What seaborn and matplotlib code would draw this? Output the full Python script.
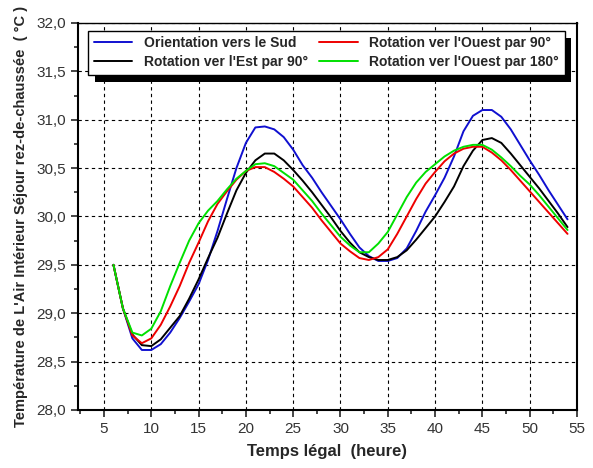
import numpy as np
import pandas as pd
import seaborn as sns
import matplotlib.pyplot as plt
import matplotlib.patheffects as pe
from matplotlib.ticker import MultipleLocator, FuncFormatter

heures = list(range(6, 55))

sud = [29.50, 29.05, 28.74, 28.62, 28.62, 28.68, 28.80, 28.95, 29.12, 29.30,
       29.55, 29.85, 30.18, 30.50, 30.76, 30.92, 30.93, 30.90, 30.82, 30.69,
       30.53, 30.40, 30.25, 30.11, 29.97, 29.82, 29.68, 29.59, 29.54, 29.54,
       29.57, 29.67, 29.85, 30.05, 30.22, 30.40, 30.62, 30.88, 31.04, 31.10,
       31.10, 31.03, 30.90, 30.74, 30.58, 30.43, 30.27, 30.12, 29.97]
est90 = [29.50, 29.05, 28.78, 28.67, 28.66, 28.73, 28.85, 28.97, 29.15, 29.35,
         29.57, 29.78, 30.03, 30.27, 30.45, 30.58, 30.65, 30.65, 30.58, 30.48,
         30.37, 30.25, 30.12, 29.99, 29.85, 29.73, 29.63, 29.58, 29.55, 29.55,
         29.58, 29.65, 29.76, 29.88, 30.00, 30.15, 30.31, 30.52, 30.68, 30.79,
         30.81, 30.76, 30.65, 30.53, 30.41, 30.29, 30.16, 30.03, 29.89]
ouest90 = [29.50, 29.05, 28.77, 28.69, 28.74, 28.88, 29.07, 29.28, 29.52, 29.73,
           29.95, 30.13, 30.26, 30.38, 30.47, 30.51, 30.51, 30.46, 30.39, 30.31,
           30.20, 30.09, 29.96, 29.84, 29.72, 29.64, 29.57, 29.55, 29.58, 29.66,
           29.82, 30.00, 30.18, 30.34, 30.46, 30.57, 30.65, 30.70, 30.72, 30.72,
           30.66, 30.58, 30.48, 30.37, 30.26, 30.15, 30.04, 29.93, 29.82]
ouest180 = [29.50, 29.05, 28.80, 28.77, 28.84, 29.02, 29.28, 29.52, 29.75, 29.93,
            30.06, 30.16, 30.28, 30.39, 30.47, 30.54, 30.55, 30.52, 30.45, 30.38,
            30.27, 30.16, 30.03, 29.91, 29.79, 29.70, 29.63, 29.63, 29.72, 29.84,
            30.02, 30.20, 30.35, 30.46, 30.54, 30.62, 30.68, 30.72, 30.74, 30.74,
            30.69, 30.61, 30.52, 30.42, 30.33, 30.22, 30.10, 29.98, 29.86]

noms = ["Orientation vers le Sud", "Rotation ver l'Est par 90°",
        "Rotation ver l'Ouest par 90°", "Rotation ver l'Ouest par 180°"]
couleurs = ["#1010d0", "#000000", "#ee0000", "#00e000"]

df = pd.DataFrame({
    "t": heures * 4,
    "T": sud + est90 + ouest90 + ouest180,
    "serie": sum([[n] * len(heures) for n in noms], []),
})

sns.set_style("ticks")
plt.rcParams['font.family'] = ['Liberation Sans', 'DejaVu Sans']

fig = plt.figure(figsize=(5.93, 4.68), dpi=100)
ax = fig.add_axes([0.1315, 0.124, 0.8415, 0.827])

sns.lineplot(data=df, x="t", y="T", hue="serie", hue_order=noms,
             palette=couleurs, linewidth=1.4, ax=ax)

ax.set_xlim(2.25, 55)
ax.set_ylim(28.0, 32.0)
ax.xaxis.set_major_locator(MultipleLocator(5))
ax.xaxis.set_minor_locator(MultipleLocator(2.5))
ax.yaxis.set_major_locator(MultipleLocator(0.5))
ax.yaxis.set_minor_locator(MultipleLocator(0.25))
ax.yaxis.set_major_formatter(FuncFormatter(lambda v, p: f"{v:.1f}".replace(".", ",")))

ax.grid(True, which="major", color="black", linestyle=(0, (3, 3)), linewidth=0.8)
ax.tick_params(which="major", direction="out", length=5, width=1.2,
               labelsize=11, labelcolor="#333333")
ax.tick_params(which="minor", direction="out", length=3, width=1.2)
for s in ax.spines.values():
    s.set_linewidth(1.5)
    s.set_color("black")
ax.spines["top"].set_linewidth(1.0)

ax.set_xlabel("Temps légal  (heure)", fontsize=12, fontweight="bold", labelpad=6)
ax.set_ylabel("Température de L'Air Intérieur Séjour rez-de-chaussée  ( °C )",
              fontsize=10.5, fontweight="bold", labelpad=6)

leg = ax.legend(loc="upper left", bbox_to_anchor=(0.02, 0.0, 0.955, 0.98),
                mode="expand", borderaxespad=0, ncol=2, fancybox=False,
                edgecolor="black", facecolor="white", framealpha=1,
                handlelength=2.8, columnspacing=1, borderpad=0.4,
                labelspacing=0.35, prop={"weight": "bold", "size": 10})
leg.set_zorder(10)
leg.get_frame().set_linewidth(1.0)
leg.get_frame().set_path_effects([
    pe.SimplePatchShadow(offset=(5, -5), shadow_rgbFace="black", alpha=1),
    pe.Normal()])

fig.savefig("out.png", dpi=100)
